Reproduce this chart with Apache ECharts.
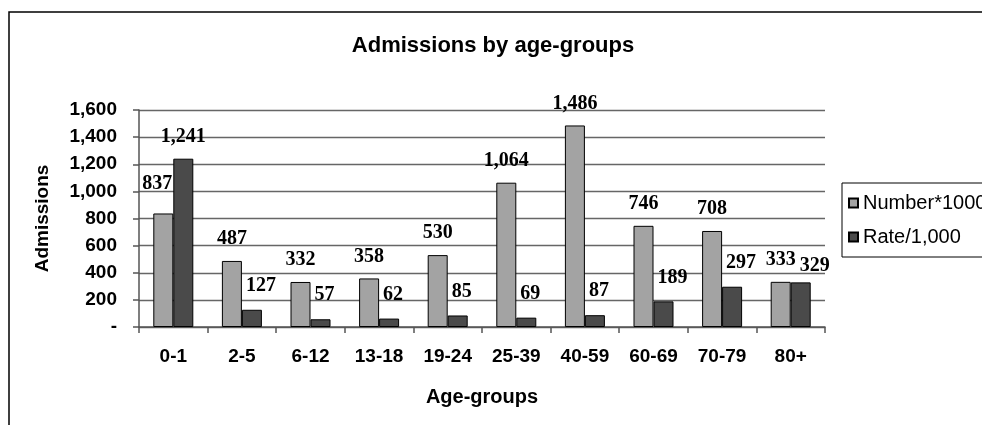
<!DOCTYPE html>
<html><head><meta charset="utf-8">
<script src="https://cdn.jsdelivr.net/npm/echarts@6/dist/echarts.min.js"></script>
<style>html,body{margin:0;padding:0;background:#fff}#c{width:982px;height:425px}</style>
</head><body><div id="c"></div>
<script>
const categories = ['0-1','2-5','6-12','13-18','19-24','25-39','40-59','60-69','70-79','80+'];
const numberValues = [837,487,332,358,530,1064,1486,746,708,333];
const rateValues = [1241,127,57,62,85,69,87,189,297,329];
const seriesNames = ['Number*1000','Rate/1,000'];
const yTicks = {min:0, max:1600, interval:200};

const fmt = v => v === 0 ? '-' : Number(v).toLocaleString('en-US');
const chart = echarts.init(document.getElementById('c'), null, {renderer:'canvas'});
const labelStyle = {show:true, position:'top', distance:12, fontFamily:'Liberation Serif', fontWeight:'bold', fontSize:20, color:'#000', formatter:p=>fmt(p.value)};

// Excel-like nudging of labels that would collide with the neighbouring bar/label
function nudge(params){
  const i = params.dataIndex, s = params.seriesIndex;
  const own = s === 0 ? numberValues[i] : rateValues[i];
  const other = s === 0 ? rateValues[i] : numberValues[i];
  if (!own) return {};
  const base = params.rect.y + params.rect.height;
  const scale = params.rect.height / own;
  const ownTop = base - own*scale, otherTop = base - other*scale;
  const lh = params.labelRect.height;
  if (s === 0) {
    if (other > own && otherTop < params.labelRect.y + lh) return {dx:-6, dy:-8};
    return {};
  }
  if (other > own) {
    if (Math.abs(ownTop - otherTop) < lh) return {dx:14, dy:5};
    return {dx:Math.max(0, params.rect.x + 4 - params.labelRect.x), dy:-2};
  }
  return {};
}

chart.setOption({
  animation:false,
  backgroundColor:'#fff',
  graphic:[{type:'rect', shape:{x:9,y:12,width:1000,height:500}, style:{fill:'none', stroke:'#000', lineWidth:1.5}, silent:true}],
  title:{text:'Admissions by age-groups', left:488, top:30, textAlign:'center', textStyle:{fontFamily:'Liberation Sans', fontWeight:'bold', fontSize:22, color:'#000'}},
  legend:{orient:'vertical', left:842, top:183, width:200, itemWidth:9, itemHeight:9, itemGap:14, padding:[10,6,10,6], borderColor:'#000', borderWidth:1, icon:'rect',
    textStyle:{fontFamily:'Liberation Sans', fontSize:20, color:'#000'}, data:seriesNames},
  grid:{left:139, right:157, top:110, bottom:98, containLabel:false},
  xAxis:{type:'category', data:categories, name:'Age-groups', nameLocation:'middle', nameGap:60,
    nameTextStyle:{fontFamily:'Liberation Sans', fontWeight:'bold', fontSize:20, color:'#000'},
    axisLine:{lineStyle:{color:'#555', width:1.5}}, axisTick:{show:true, length:6, lineStyle:{color:'#555', width:1.5}},
    axisLabel:{margin:20, fontFamily:'Liberation Sans', fontWeight:'bold', fontSize:19, color:'#000'}},
  yAxis:{type:'value', min:yTicks.min, max:yTicks.max, interval:yTicks.interval, name:'Admissions', nameLocation:'middle', nameGap:87, nameRotate:90,
    nameTextStyle:{fontFamily:'Liberation Sans', fontWeight:'bold', fontSize:19, color:'#000'},
    axisLine:{show:true, lineStyle:{color:'#555', width:1.5}}, axisTick:{show:true, length:6, lineStyle:{color:'#555', width:1.5}},
    splitLine:{lineStyle:{color:'#666', width:1.3}},
    axisLabel:{margin:22, formatter:fmt, fontFamily:'Liberation Sans', fontWeight:'bold', fontSize:19, color:'#000'}},
  series:[
    {name:seriesNames[0], type:'bar', data:numberValues, barWidth:20, barGap:'0%', itemStyle:{color:'#a3a3a3', borderColor:'#000', borderWidth:1}, label:labelStyle, labelLayout:nudge},
    {name:seriesNames[1], type:'bar', data:rateValues, barWidth:20, barGap:'0%', itemStyle:{color:'#4a4a4a', borderColor:'#000', borderWidth:1}, label:labelStyle, labelLayout:nudge}
  ]
});
</script></body></html>
